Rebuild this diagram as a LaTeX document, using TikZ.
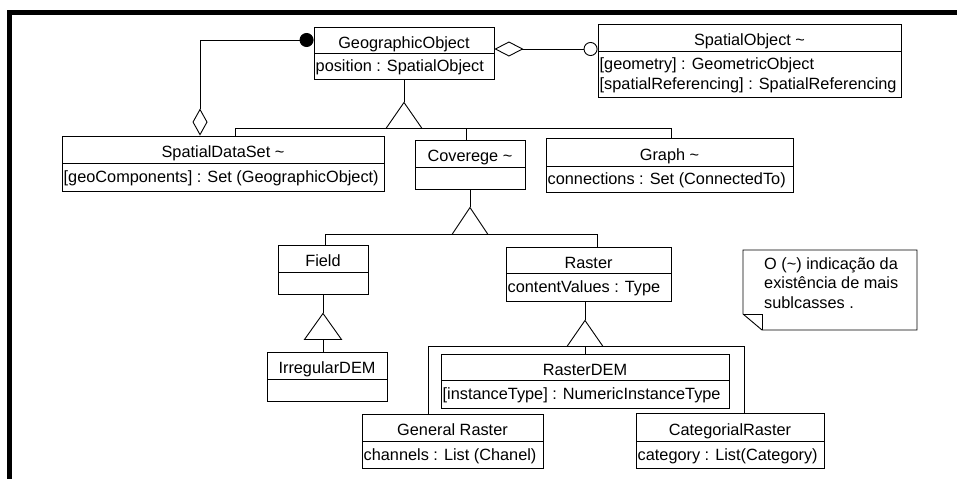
\documentclass[tikz,border=0pt]{standalone}
\usepackage{fontspec}
\setmainfont{Liberation Sans}
\usetikzlibrary{arrows.meta,fit,calc}

\newcommand{\umlfont}{\fontsize{16.3}{20}\selectfont}

\tikzset{
  conn/.style={line width=0.9pt},
  box/.style={draw, line width=0.9pt, inner sep=0pt},
  hdr/.style={inner sep=0pt, text height=16pt, text depth=0pt, font=\umlfont},
  attr/.style={inner sep=0pt, anchor=west, align=left, text height=11.7pt, text depth=0pt, font=\umlfont},
  lines/.style={inner sep=0pt, anchor=base west, align=left},
  gentri/.style={draw, fill=white, line width=0.9pt, line join=miter},
  notebox/.style={draw, fill=white, line width=0.9pt, line join=miter},
}

% \umlclass{name}{x1}{y1}{y divider}{x2}{y2}{class name}{attribute}
\newcommand{\umlclass}[8]{%
  \coordinate (#1-nw) at (#2,#3);
  \coordinate (#1-se) at (#5,#6);
  \node[box, fit=(#1-nw)(#1-se)] (#1) {};
  \draw[line width=0.9pt] (#2,#4) -- (#5,#4);
  \node[hdr] (#1-name) at ({(#2+#5)/2},{(#3+#4)/2}) {#7};
  \node[attr] (#1-attr) at ({#2+1.5},{(#4+#6)/2}) {#8};
}

\begin{document}
\begin{tikzpicture}[x=1pt,y=-1pt]
\useasboundingbox (0,0) rectangle (957,479);
\fill[white] (0,0) rectangle (957,479);

% heavy frame on top and left
\fill[black] (7,10) rectangle (957,15);
\fill[black] (7,10) rectangle (12,479);

% classes
\umlclass{geo}{314}{27}{53}{494}{79}{GeographicObject}{position : SpatialObject}
\umlclass{so}{598}{24}{51}{901}{97}{SpatialObject \textasciitilde}{}
\node[lines, font=\fontsize{16.3}{20}\selectfont] (so-lines) at (599.5,89)
  {[geometry] : GeometricObject\\{}[spatialReferencing] : SpatialReferencing};
\umlclass{sds}{62}{136}{163}{384}{191}{SpatialDataSet \textasciitilde}{[geoComponents] : Set (GeographicObject)}
\umlclass{cov}{415}{140}{167}{525}{189}{Coverege \textasciitilde}{}
\umlclass{graph}{546}{138}{166}{793}{192}{Graph \textasciitilde}{connections : Set (ConnectedTo)}
\umlclass{field}{278}{245}{272}{368}{294}{Field}{}
\umlclass{irr}{267}{352}{379}{387}{401}{IrregularDEM}{}
\umlclass{raster}{506}{247}{273}{671}{301}{Raster}{contentValues : Type}
\umlclass{rdem}{441}{354}{380}{729}{408}{RasterDEM}{[instanceType] : NumericInstanceType}
\umlclass{gr}{362}{414}{441}{543}{468}{General Raster}{channels : List (Chanel)}
\umlclass{cr}{636}{413}{441}{824}{468}{CategorialRaster}{category : List(Category)}

% aggregation: SpatialDataSet holds GeographicObjects
\coordinate (j1) at (200,40);
\draw[conn, {Circle[length=14pt]}-{Diamond[open,length=27pt,width=15pt]}]
  (geo.west |- j1) -- (j1) -- (j1 |- sds.north);

% aggregation: GeographicObject has a SpatialObject position
\coordinate (j2) at (550,49);
\draw[conn, {Diamond[open,length=29pt,width=15pt]}-{Circle[open,length=14pt]}]
  (geo.east |- j2) -- (so.west |- j2);

% generalization of GeographicObject
\draw[conn] (geo.south) -- ++(0,23) coordinate (geo-apex);
\draw[gentri] (geo-apex) -- ++(-18,26) -- ++(36,0) -- cycle;
\coordinate (b1l) at (235,128);
\coordinate (b1c) at (466,128);
\coordinate (b1r) at (671,128);
\draw[conn] (b1l |- sds.north) -- (b1l) -- (b1r) -- (b1r |- graph.north);
\draw[conn] (b1c) -- (b1c |- cov.north);

% generalization of Coverege
\draw[conn] (cov.south) -- ++(0,18) coordinate (cov-apex);
\draw[gentri] (cov-apex) -- ++(-18,27) -- ++(36,0) -- cycle;
\coordinate (b2l) at (325,234);
\coordinate (b2r) at (597,234);
\draw[conn] (b2l |- field.north) -- (b2l) -- (b2r) -- (b2r |- raster.north);

% generalization of Field
\draw[conn] (field.south) -- ++(0,19) coordinate (field-apex);
\draw[gentri] (field-apex) -- ++(-18.5,26) -- ++(37,0) -- cycle;
\coordinate (field-base) at ($(field-apex)+(0,26)$);
\draw[conn] (field-base) -- (field-base |- irr.north);

% generalization of Raster
\draw[conn] (rdem.north |- raster.south) -- ++(0,19) coordinate (raster-apex);
\draw[gentri] (raster-apex) -- ++(-18,26) -- ++(36,0) -- cycle;
\coordinate (b3l) at (428,346);
\coordinate (b3c) at ($(raster-apex)+(0,26)$);
\coordinate (b3r) at (744,346);
\draw[conn] (b3l |- gr.north) -- (b3l) -- (b3r) -- (b3r |- cr.north);
\draw[conn] (b3c) -- (b3c |- rdem.north);

% note with folded corner
\draw[notebox] (743,250) -- (917,250) -- (917,330) -- (762,330) -- (743,314) -- cycle;
\draw[line width=0.9pt] (743,314) -- (762,314) -- (762,330);
\node[lines, font=\fontsize{16.3}{19.4}\selectfont] (notetext) at (764,308.1)
  {O (\textasciitilde) indicação da\\existência de mais\\sublcasses .};
\end{tikzpicture}
\end{document}
